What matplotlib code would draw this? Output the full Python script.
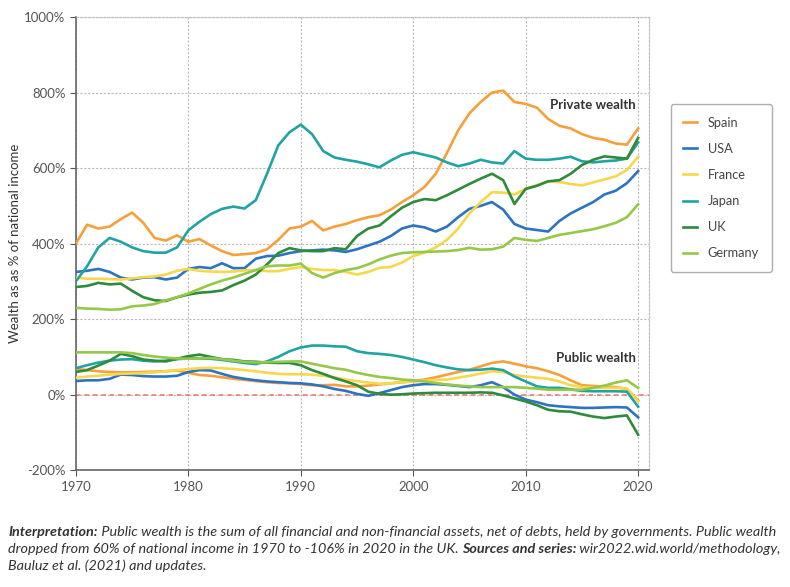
import matplotlib
matplotlib.use('Agg')
import matplotlib.pyplot as plt

plt.rcParams['font.family'] = ['Lato', 'DejaVu Sans']

years = list(range(1970, 2021))
countries = ['Spain', 'USA', 'France', 'Japan', 'UK', 'Germany']
colors = ['#F6A03C', '#2C73C2', '#F7D84A', '#22A3A3', '#2E8B3C', '#95C848']

# private wealth, % of national income
spain_priv = [400, 450, 440, 445, 465, 482, 455, 415, 408, 422,
              405, 412, 395, 380, 370, 372, 375, 385, 410, 440,
              445, 460, 435, 445, 452, 462, 470, 475, 490, 510,
              528, 550, 585, 640, 700, 745, 775, 800, 805, 775,
              770, 760, 730, 712, 705, 690, 680, 675, 665, 662, 705]
usa_priv = [325, 328, 333, 325, 310, 305, 310, 311, 305, 310,
            333, 338, 335, 348, 335, 335, 360, 367, 368, 375,
            380, 382, 384, 382, 378, 385, 395, 405, 420, 440,
            448, 443, 432, 445, 470, 492, 500, 510, 490, 452,
            440, 436, 432, 460, 480, 495, 510, 530, 540, 560, 592]
france_priv = [310, 307, 307, 306, 305, 308, 311, 313, 318, 328,
               333, 328, 326, 325, 326, 329, 330, 327, 327, 333,
               338, 333, 330, 330, 325, 318, 325, 336, 338, 350,
               367, 376, 390, 410, 440, 480, 510, 536, 535, 530,
               545, 555, 565, 563, 558, 554, 562, 570, 578, 595, 630]
japan_priv = [300, 340, 390, 415, 405, 390, 380, 376, 376, 390,
              435, 458, 478, 492, 498, 493, 515, 585, 660, 695,
              715, 690, 645, 628, 622, 617, 610, 602, 620, 635,
              642, 635, 628, 615, 605, 612, 622, 615, 612, 645,
              625, 622, 622, 625, 630, 618, 615, 618, 620, 625, 668]
uk_priv = [285, 288, 296, 292, 294, 275, 258, 250, 248, 258,
           265, 270, 272, 276, 290, 302, 318, 345, 375, 388,
           382, 380, 380, 388, 385, 420, 440, 448, 472, 495,
           510, 518, 515, 528, 543, 558, 572, 585, 568, 505,
           545, 553, 565, 568, 585, 608, 622, 631, 628, 625, 680]
germany_priv = [230, 228, 227, 225, 226, 234, 236, 240, 250, 258,
                268, 280, 292, 302, 310, 320, 330, 340, 342, 342,
                347, 322, 310, 322, 330, 335, 345, 358, 368, 375,
                377, 378, 379, 380, 383, 389, 384, 385, 392, 415,
                410, 407, 415, 423, 428, 433, 438, 446, 455, 470, 504]

# public wealth, % of national income
spain_pub = [68, 65, 62, 60, 59, 59, 60, 61, 62, 64,
             58, 52, 50, 46, 42, 39, 36, 33, 31, 30,
             28, 25, 25, 26, 22, 22, 24, 27, 30, 33,
             35, 40, 46, 53, 60, 66, 75, 84, 88, 82,
             75, 70, 62, 52, 38, 25, 23, 22, 20, 15, -15]
usa_pub = [36, 38, 38, 42, 53, 52, 49, 48, 48, 50,
           60, 65, 64, 55, 47, 42, 38, 35, 33, 31,
           30, 27, 22, 15, 10, 2, -3, 4, 12, 20,
           25, 28, 28, 26, 23, 20, 25, 33, 20, 0,
           -13, -20, -28, -31, -33, -35, -35, -34, -33, -34, -60]
france_pub = [45, 48, 50, 53, 55, 56, 57, 59, 62, 65,
              68, 70, 71, 70, 68, 65, 62, 58, 55, 54,
              54, 53, 50, 46, 40, 36, 32, 29, 30, 33,
              35, 37, 39, 40, 45, 50, 56, 62, 60, 52,
              48, 45, 42, 35, 25, 20, 19, 18, 18, 16, -18]
japan_pub = [70, 78, 85, 90, 93, 94, 90, 88, 90, 94,
             96, 96, 95, 92, 88, 84, 81, 88, 100, 115,
             125, 130, 130, 128, 127, 115, 110, 108, 105, 100,
             93, 86, 78, 72, 67, 65, 66, 69, 65, 48,
             35, 22, 18, 18, 14, 10, 9, 9, 9, 8, -32]
uk_pub = [60, 65, 77, 90, 108, 102, 93, 90, 88, 95,
          102, 106, 100, 94, 92, 88, 87, 85, 84, 84,
          78, 65, 55, 44, 35, 25, 8, 2, 0, 1,
          3, 4, 5, 5, 5, 5, 6, 5, -2, -10,
          -18, -28, -40, -44, -45, -52, -58, -62, -58, -55, -106]
germany_pub = [112, 112, 112, 112, 112, 110, 105, 101, 98, 96,
               95, 96, 97, 94, 90, 87, 85, 86, 87, 88,
               88, 82, 76, 70, 66, 58, 52, 47, 44, 40,
               38, 35, 31, 27, 24, 22, 20, 20, 20, 20,
               18, 16, 13, 13, 13, 13, 18, 24, 32, 38, 18]

private = [spain_priv, usa_priv, france_priv, japan_priv, uk_priv, germany_priv]
public = [spain_pub, usa_pub, france_pub, japan_pub, uk_pub, germany_pub]

fig = plt.figure(figsize=(7.9, 5.87), dpi=100)
ax = fig.add_axes([0.096, 0.199, 0.726, 0.772])

ax.axhline(0, color='#EE7468', lw=1.1, ls=(0, (3, 2.5)), zorder=2)

for name, col, pr, pu in zip(countries, colors, private, public):
    ax.plot(years, pr, color=col, lw=1.9, label=name, zorder=3)
    ax.plot(years, pu, color=col, lw=1.9, zorder=3)

ax.set_xlim(1970, 2021)
ax.set_ylim(-200, 1000)
ax.set_xticks(range(1970, 2021, 10))
ax.set_yticks(range(-200, 1001, 200))
ax.set_yticklabels([f'{v}%' for v in range(-200, 1001, 200)])
ax.tick_params(colors='#555555', labelsize=9.5, length=4, width=0.8)
ax.grid(True, color='#BBBBBB', ls=(0, (2, 1.5)), lw=0.8)
ax.set_axisbelow(True)
for s in ['top', 'right']:
    ax.spines[s].set_color('#BBBBBB')
    ax.spines[s].set_linestyle((0, (2, 1.5)))
    ax.spines[s].set_linewidth(0.8)
for s in ['left', 'bottom']:
    ax.spines[s].set_color('#666666')
    ax.spines[s].set_linewidth(1.2)

ax.set_ylabel('Wealth as as % of national income', fontsize=9.5, color='#333333', labelpad=2)

ax.text(2019.8, 767, 'Private wealth', ha='right', va='center', fontsize=9.5,
        fontweight='bold', color='#333333')
ax.text(2019.8, 96, 'Public wealth', ha='right', va='center', fontsize=9.5,
        fontweight='bold', color='#333333')

leg = ax.legend(loc='upper left', bbox_to_anchor=(1.037, 0.808), borderaxespad=0,
                frameon=True, fontsize=9.2, handlelength=1.1, handletextpad=0.8,
                labelspacing=1.1, borderpad=1.0, fancybox=True)
leg.get_frame().set_edgecolor('#999999')
leg.get_frame().set_linewidth(1.0)
for t in leg.get_texts():
    t.set_color('#444444')

# caption with mixed bold / italic runs
caption = [
    [('Interpretation:', 'bold'), (' Public wealth is the sum of all financial and non-financial assets, net of debts, held by governments. Public wealth', 'normal')],
    [('dropped from 60% of national income in 1970 to -106% in 2020 in the UK. ', 'normal'), ('Sources and series:', 'bold'), (' wir2022.wid.world/methodology,', 'normal')],
    [('Bauluz et al. (2021) and updates.', 'normal')],
]
line_width = [776, 776, None]
renderer = fig.canvas.get_renderer()
ypos = [51, 34, 17]
for line, y, lw_target in zip(caption, ypos, line_width):
    fs = 10.4
    if lw_target:
        # measure the line at the base size and shrink it to the target width
        total = 0
        for txt, w in line:
            tmp = fig.text(0, 0, txt, fontsize=fs, style='italic', fontweight=w)
            total += tmp.get_window_extent(renderer).width
            tmp.remove()
        fs = min(fs, fs * lw_target / total)
    x = 8
    for txt, w in line:
        t = fig.text(x / 790, y / 587, txt, fontsize=fs, style='italic', fontweight=w,
                     color='#333333', transform=fig.transFigure, va='baseline')
        x += t.get_window_extent(renderer).width

fig.savefig('out.png', dpi=100)
